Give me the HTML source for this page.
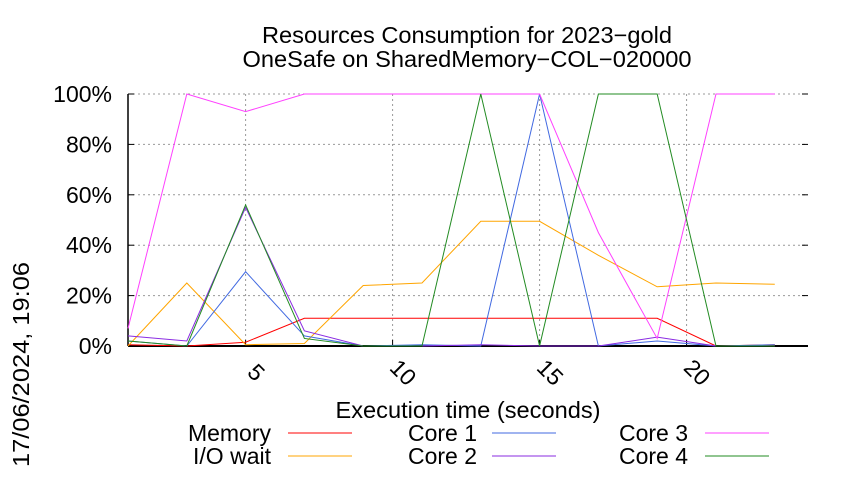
<!DOCTYPE html>
<html><head><meta charset="utf-8"><style>
body{margin:0;background:#fff}
svg text{font-family:"Liberation Sans",sans-serif;fill:#000}
</style></head><body>
<svg width="850" height="475" id="c">
<text x="467" y="43" font-size="23" text-anchor="middle" textLength="410" lengthAdjust="spacingAndGlyphs">Resources Consumption for 2023−gold</text>
<text x="467" y="67" font-size="23" text-anchor="middle" textLength="449" lengthAdjust="spacingAndGlyphs">OneSafe on SharedMemory−COL−020000</text>
<text transform="translate(29,467) rotate(-90)" font-size="23" textLength="205" lengthAdjust="spacingAndGlyphs">17/06/2024, 19:06</text>
<text x="468" y="418" font-size="23" text-anchor="middle" textLength="265" lengthAdjust="spacingAndGlyphs">Execution time (seconds)</text>
<g id="grid"></g>
<g id="axes"></g>
<g id="series"></g>
<g id="legend"></g>
</svg>
<script>
const xs=[1,3,5,7,9,11,13,15,17,19,21,23];
const memory=[0.5,0,1.5,11,11,11,11,11,11,11,0,0.5];
const iowait=[0,25,0.5,1,24,25,49.5,49.5,36,23.5,25,24.5];
const core1=[2,0,29.5,4,0,0.5,0,100,0,2,0,0.5];
const core2=[4,2,55,6,0,0,0.5,0,0,3.5,0,0];
const core3=[7,100,93,100,100,100,100,100,45,3,100,100];
const core4=[2,0,56,3,0,0,100,0,100,100,0,0];
const xTicks=[5,10,15,20];
const yTicks=[0,20,40,60,80,100];
const L=128,R=808,T=94,B=346,X0=1,X1=24.13;
const sx=v=>L+(v-X0)/(X1-X0)*(R-L), sy=v=>B-v/100*(B-T);
const NS="http://www.w3.org/2000/svg";
function mk(t,a,p){const e=document.createElementNS(NS,t);for(const k in a)e.setAttribute(k,a[k]);p.appendChild(e);return e;}
const g=document.getElementById('grid'),ax=document.getElementById('axes'),s=document.getElementById('series'),lg=document.getElementById('legend');
yTicks.forEach(v=>{
 if(v>0){const l=mk('line',{x1:L,x2:R,y1:sy(v),y2:sy(v),stroke:'#999','stroke-dasharray':'2,3'},g);}
 const t=mk('text',{x:L-16,y:sy(v)+8,'font-size':23,'text-anchor':'end'},ax);t.textContent=v+'%';
 
 mk('line',{x1:L,x2:L+6,y1:sy(v),y2:sy(v),stroke:'#000'},ax);mk('line',{x1:R-6,x2:R,y1:sy(v),y2:sy(v),stroke:'#000'},ax);
});
xTicks.forEach(v=>{
 const l=mk('line',{x1:sx(v),x2:sx(v),y1:T,y2:B,stroke:'#999','stroke-dasharray':'2,3'},g);
 
 mk('line',{x1:sx(v),x2:sx(v),y1:B,y2:B-6,stroke:'#000'},ax);
 const t=mk('text',{'font-size':23,'text-anchor':'middle',transform:`translate(${sx(v)+5},${B+32}) rotate(45)`},ax);t.textContent=v;
 
});
mk('line',{x1:L,x2:L,y1:T,y2:B,stroke:'#000','stroke-width':1.5},ax);
mk('line',{x1:L,x2:R,y1:B,y2:B,stroke:'#000','stroke-width':2},ax);
const ser=[["Memory",memory,"#ff0000",271,433,288],["I/O wait",iowait,"#ffa500",271,456,288],["Core 1",core1,"#4169e1",477,433,492],["Core 2",core2,"#8a2be2",477,456,492],["Core 3",core3,"#ff40ff",688,433,705],["Core 4",core4,"#228b22",688,456,705]];
ser.forEach(([n,d,c,tx,ty,lx])=>{
 const p=mk('polyline',{points:xs.map((x,i)=>sx(x)+','+sy(d[i])).join(' '),fill:'none',stroke:c,'stroke-width':1},s);
 
 const t=mk('text',{x:tx,y:ty+8,'font-size':23,'text-anchor':'end'},lg);t.textContent=n;
 
 const l=mk('line',{x1:lx,x2:lx+64,y1:ty,y2:ty,stroke:c},lg);
 
});
</script>
</body></html>
